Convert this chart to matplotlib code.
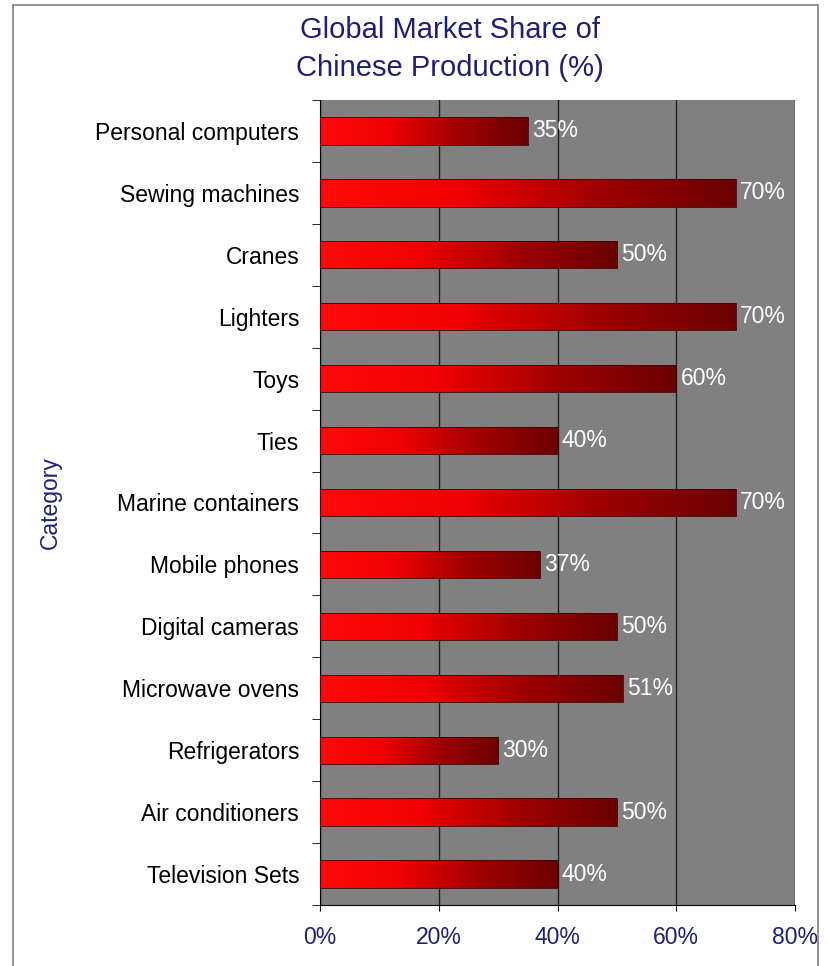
import matplotlib
matplotlib.use("Agg")
import matplotlib.pyplot as plt
import numpy as np
from matplotlib.colors import LinearSegmentedColormap
from matplotlib.patches import Rectangle
from matplotlib.ticker import FixedLocator

categories = ["Personal computers", "Sewing machines", "Cranes", "Lighters", "Toys",
              "Ties", "Marine containers", "Mobile phones", "Digital cameras",
              "Microwave ovens", "Refrigerators", "Air conditioners", "Television Sets"]
values = [35, 70, 50, 70, 60, 40, 70, 37, 50, 51, 30, 50, 40]
xticks = [0, 20, 40, 60, 80]
xticklabels = ["0%", "20%", "40%", "60%", "80%"]

plt.rcParams['font.family'] = ['Liberation Sans', 'DejaVu Sans']
navy = "#1f1f7a"
fs = 16.5

fig = plt.figure(figsize=(8.29, 9.66), dpi=100)
fig.patch.set_facecolor("white")
# figure border
fig.patches.append(Rectangle((13/829, -0.01), (818-13)/829, 1 - 5/966 + 0.01,
                             transform=fig.transFigure, fill=False,
                             edgecolor="#808080", linewidth=1.2))

ax = fig.add_axes([320/829, 1 - 905/966, (795-320)/829, (905-100)/966])
ax.set_facecolor("#808080")

y = np.arange(len(categories))
bars = ax.barh(y, values, height=0.44, color="none", edgecolor="#4a0000",
               linewidth=0.6, zorder=3)

cmap = LinearSegmentedColormap.from_list("redgrad", ["#ff0a0a", "#f00000", "#a00000", "#6a0000"])
grad = np.linspace(0, 1, 256).reshape(1, -1)
for b in bars:
    x0, y0 = b.get_x(), b.get_y()
    w, h = b.get_width(), b.get_height()
    im = ax.imshow(grad, cmap=cmap, aspect="auto", extent=[x0, x0 + w, y0, y0 + h],
                   zorder=2, interpolation="bicubic")
    im.set_clip_path(b)

for yi, v in zip(y, values):
    ax.text(v + 0.7, yi, f"{v}%", color="white", fontsize=fs, va="center", ha="left", zorder=4)

ax.set_xlim(0, 80)
ax.set_ylim(len(categories) - 0.5, -0.5)
ax.set_xticks(xticks)
ax.set_xticklabels(xticklabels, color=navy, fontsize=fs)
ax.set_yticks(y)
ax.set_yticklabels(categories, fontsize=fs, color="black")
ax.yaxis.set_minor_locator(FixedLocator(np.arange(-0.5, len(categories), 1.0)))
ax.tick_params(axis="y", which="major", length=0, pad=15)
ax.tick_params(axis="y", which="minor", length=5.5, color="black", direction="out")
ax.tick_params(axis="x", which="major", length=4, color="black", pad=11)

ax.grid(axis="x", color="#202020", linewidth=1.0, zorder=1)
ax.set_axisbelow(True)
for side in ["top", "right"]:
    ax.spines[side].set_visible(False)
ax.spines["left"].set_color("black")
ax.spines["bottom"].set_color("black")

ax.set_ylabel("Category", color=navy, fontsize=fs, labelpad=0)
ax.yaxis.set_label_coords(-(320-62)/475, 0.5)

fig.text(450/829, 1 - 30/966, "Global Market Share of", ha="center", va="center",
         fontsize=21, color=navy)
fig.text(450/829, 1 - 68/966, "Chinese Production (%)", ha="center", va="center",
         fontsize=21, color=navy)

fig.savefig("out.png", dpi=100, facecolor="white")
